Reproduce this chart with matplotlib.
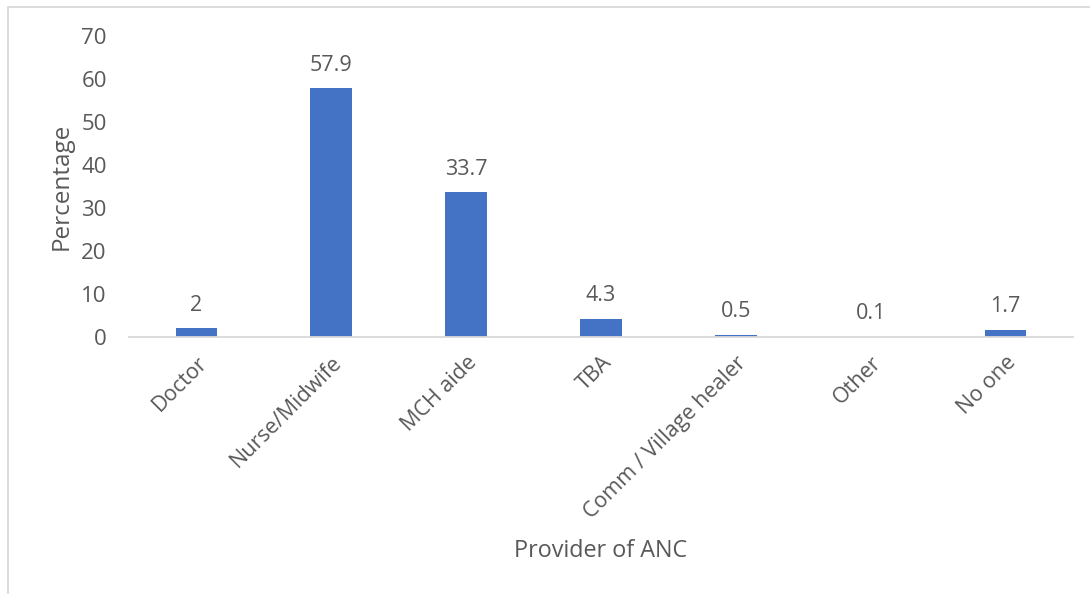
import matplotlib
matplotlib.use("Agg")
import matplotlib.pyplot as plt
from matplotlib.patches import Rectangle

categories = ["Doctor", "Nurse/Midwife", "MCH aide", "TBA", "Comm / Village healer", "Other", "No one"]
values = [2, 57.9, 33.7, 4.3, 0.5, 0.1, 1.7]
value_labels = ["2", "57.9", "33.7", "4.3", "0.5", "0.1", "1.7"]
yticks = [0, 10, 20, 30, 40, 50, 60, 70]

plt.rcParams['font.family'] = ['Open Sans', 'DejaVu Sans']
TXT = "#595959"

fig = plt.figure(figsize=(10.9, 5.94), dpi=100)
ax = fig.add_axes([129/1090, 1-337/594, (1073-129)/1090, 301/594])

x = list(range(len(categories)))
ax.bar(x, values, width=0.31, color="#4472C4", zorder=3)
ax.set_xlim(-0.5, len(categories) - 0.5)
ax.set_ylim(0, 70)
ax.set_yticks(yticks)
ax.set_yticklabels([str(t) for t in yticks], fontsize=16)
ax.set_xticks(x)
ax.set_xticklabels(categories, rotation=45, ha='right', va='top', rotation_mode='anchor', fontsize=15.5)

for s in ['top', 'right', 'left']:
    ax.spines[s].set_visible(False)
ax.spines['bottom'].set_color("#D9D9D9")
ax.spines['bottom'].set_linewidth(1.3)
ax.spines['bottom'].set_zorder(4)
ax.tick_params(axis='both', length=0, colors=TXT)
ax.tick_params(axis='y', pad=16)
ax.tick_params(axis='x', pad=11)

for xi, v, lab in zip(x, values, value_labels):
    ax.annotate(lab, (xi, v), xytext=(0, 9), textcoords='offset points',
                ha='center', va='bottom', fontsize=15.5, color=TXT)

fig.text(62/1090, 1-186/594, "Percentage", rotation=90, ha='center', va='center', fontsize=17.5, color=TXT)
fig.text(601/1090, 1-551/594, "Provider of ANC", ha='center', va='center', fontsize=16.8, color=TXT)

# outer chart border (left and top visible)
fig.patches.append(Rectangle((8/1090, -0.05), 1.2, 1-7/594+0.05, transform=fig.transFigure,
                             fill=False, edgecolor="#D9D9D9", linewidth=1.3))

fig.savefig("out.png", dpi=100)
